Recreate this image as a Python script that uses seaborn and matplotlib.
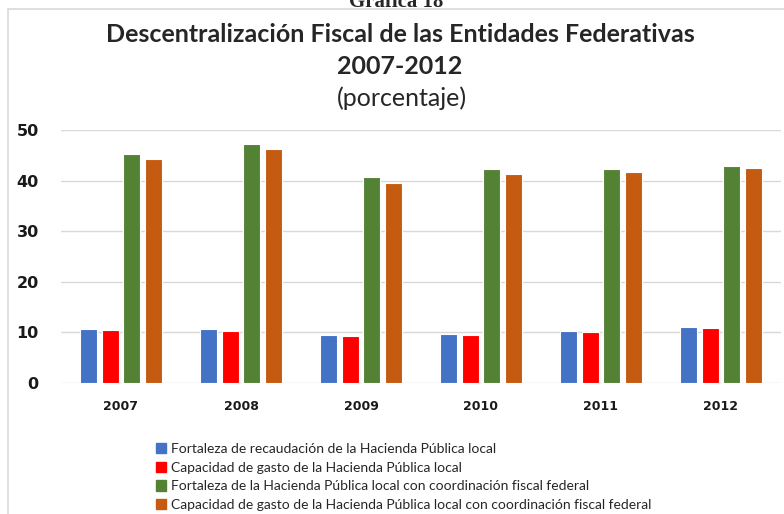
import matplotlib
matplotlib.use("Agg")
import matplotlib.pyplot as plt
import matplotlib.patches as mpatches
import pandas as pd
import seaborn as sns

# data (porcentaje)
years = ["2007", "2008", "2009", "2010", "2011", "2012"]
series_names = [
    "Fortaleza de recaudación de la Hacienda Pública local",
    "Capacidad de gasto de la Hacienda Pública local",
    "Fortaleza de la Hacienda Pública local con coordinación fiscal federal",
    "Capacidad de gasto de la Hacienda Pública local con coordinación fiscal federal",
]
fortaleza_local = [10.7, 10.6, 9.5, 9.7, 10.2, 11.0]
gasto_local = [10.5, 10.3, 9.3, 9.5, 10.0, 10.9]
fortaleza_coord = [45.3, 47.2, 40.7, 42.2, 42.3, 42.8]
gasto_coord = [44.2, 46.2, 39.6, 41.4, 41.7, 42.4]
colors = ["#4472C4", "#FF0000", "#548235", "#C55A11"]

rows = []
for name, vals in zip(series_names, [fortaleza_local, gasto_local, fortaleza_coord, gasto_coord]):
    for y, v in zip(years, vals):
        rows.append({"anio": y, "serie": name, "valor": v})
df = pd.DataFrame(rows)

sns.set_theme(style="white")
plt.rcParams["font.family"] = ["DejaVu Sans"]

fig = plt.figure(figsize=(7.84, 5.14), dpi=100)
ax = fig.add_axes([61 / 784, 1 - 383 / 514, 720 / 784, 253 / 514])

sns.barplot(data=df, x="anio", y="valor", hue="serie", hue_order=series_names,
            palette=colors, saturation=1, width=0.72, gap=0.2,
            edgecolor="white", linewidth=0.8, ax=ax, legend=False)

ax.set_ylim(0, 50)
ax.set_yticks([0, 10, 20, 30, 40, 50])
ax.set_xlim(-0.5, 5.5)
ax.set_xlabel("")
ax.set_ylabel("")
ax.yaxis.grid(True, color="#D9D9D9", linewidth=1)
ax.set_axisbelow(True)
for s in ax.spines.values():
    s.set_visible(False)
ax.tick_params(axis="y", labelsize=11.5, pad=16, length=0)
ax.tick_params(axis="x", labelsize=9, pad=12, length=0)
for lbl in ax.get_yticklabels() + ax.get_xticklabels():
    lbl.set_fontweight("bold")
    lbl.set_color("#1a1a1a")

# chart frame
fig.patches.append(mpatches.Rectangle((8 / 784, -0.05), 1.0, 1 - 9 / 514 + 0.05,
                                      transform=fig.transFigure, fill=False,
                                      edgecolor="#D9D9D9", linewidth=1.2))

# titles ("Gráfica 18" is cut by the top edge, as in the source)
fig.text(396 / 784, 1 + 8 / 514, "Gráfica 18", ha="center", va="top",
         fontsize=15, fontweight="bold", family="Liberation Serif")
fig.text(400 / 784, 1 - 34 / 514, "Descentralización Fiscal de las Entidades Federativas",
         ha="center", va="center", fontsize=18, fontweight="bold", family="Lato")
fig.text(400 / 784, 1 - 66 / 514, "2007-2012", ha="center", va="center",
         fontsize=18, fontweight="bold", family="Lato")
fig.text(402 / 784, 1 - 98 / 514, "(porcentaje)", ha="center", va="center",
         fontsize=18, family="Lato")

handles = [mpatches.Patch(color=c, label=n) for c, n in zip(colors, series_names)]
fig.legend(handles=handles, loc="upper left", bbox_to_anchor=(156 / 784, 1 - 443 / 514),
           frameon=False, prop={"family": "Lato", "size": 10},
           handlelength=0.75, handleheight=0.75, handletextpad=0.3,
           labelspacing=0.48, borderaxespad=0, borderpad=0)

fig.savefig("out.png", dpi=100)
